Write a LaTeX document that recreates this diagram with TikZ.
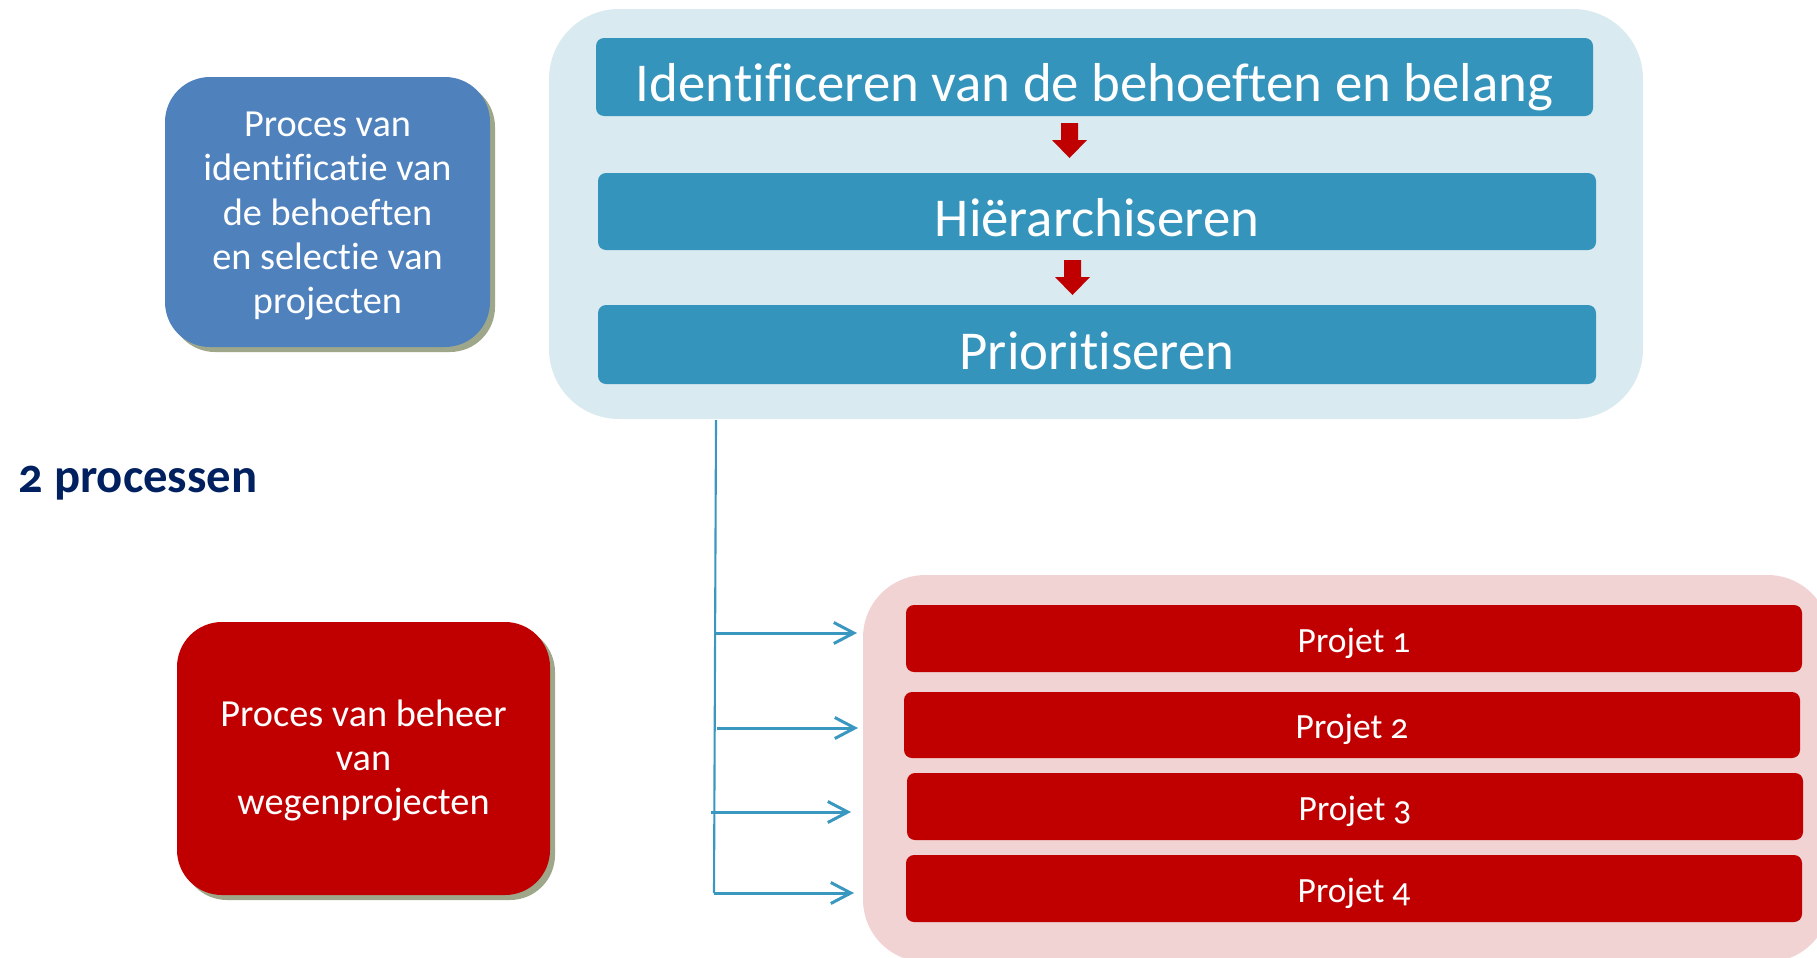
\documentclass[tikz,border=0pt]{standalone}
\usepackage{fontspec}
\setmainfont{Carlito}[Numbers=OldStyle,Ligatures=NoCommon]
\usetikzlibrary{arrows.meta,shadows}
\definecolor{lightblue}{HTML}{DAEAF1}
\definecolor{barblue}{HTML}{3594BC}
\definecolor{boxblue}{HTML}{4F81BD}
\definecolor{darkred}{HTML}{C00000}
\definecolor{pinkbg}{HTML}{F2D3D3}
\definecolor{navy}{HTML}{002060}
\definecolor{conn}{HTML}{3A97C0}
\definecolor{shadowc}{HTML}{9EA78A}
\tikzset{
  container/.style={rectangle, draw=none, inner sep=0pt},
  bar/.style={rectangle, fill=barblue, rounded corners=0.16cm, inner sep=0pt, text=white,
    text height=28.4pt, text depth=0pt,
    font=\fontsize{31.2pt}{37pt}\selectfont},
  projbar/.style={rectangle, fill=darkred, rounded corners=0.16cm, inner sep=0pt, text=white,
    text height=15.8pt, text depth=0pt,
    font=\fontsize{20.2pt}{24pt}\selectfont},
  procbox/.style={rectangle, rounded corners=0.9cm, inner sep=0pt,
    copy shadow={shadow xshift=0.1cm, shadow yshift=-0.1cm, fill=shadowc, draw=none}},
  proctext/.style={inner sep=0pt, text=white, align=center,
    font=\fontsize{21.8pt}{25.3pt}\selectfont},
  blockarrow/.style={fill=darkred, draw=none},
  connline/.style={draw=conn, line width=1.2pt},
  connarrow/.style={draw=conn, line width=1.7pt, -{Straight Barb[length=0.4cm, width=0.42cm, line width=1.7pt]}},
}
\begin{document}
\begin{tikzpicture}[x=0.02cm,y=-0.02cm]
\useasboundingbox (0,0) rectangle (1817,957);
\clip (0,0) rectangle (1817,957);
% containers
\node[container, fill=lightblue, rounded corners=1.4cm, minimum width=1094*0.02cm, minimum height=410*0.02cm] (top) at (1096,214) {};
\node[container, fill=pinkbg, rounded corners=1.25cm, minimum width=967*0.02cm, minimum height=387*0.02cm] (bottom) at (1346.5,768.5) {};
% top bars
\node[bar, minimum width=997*0.02cm, minimum height=78*0.02cm] (b1) at (1094.5,77) {Identificeren van de behoeften en belang};
\node[bar, minimum width=998*0.02cm, minimum height=77*0.02cm] (b2) at (1097,211.5) {Hiërarchiseren};
\node[bar, minimum width=998*0.02cm, minimum height=79*0.02cm] (b3) at (1097,344.5) {Prioritiseren};
% red block arrows
\fill[blockarrow] (1061,123) -- (1078,123) -- (1078,140) -- (1087,140) -- (1069.5,158) -- (1052,140) -- (1061,140) -- cycle;
\fill[blockarrow] (1064,260) -- (1081,260) -- (1081,277) -- (1090,277) -- (1072.5,295) -- (1055,277) -- (1064,277) -- cycle;
% process boxes
\node[procbox, fill=boxblue, minimum width=325*0.02cm, minimum height=270*0.02cm] (p1) at (327.5,212) {};
\node[proctext] (p1text) at ([yshift=-0.08cm]p1.center)
  {Proces van\\identificatie van\\de behoeften\\en selectie van\\projecten};
\node[procbox, fill=darkred, minimum width=373*0.02cm, minimum height=273*0.02cm] (p2) at (363.5,758.5) {};
\node[proctext] (p2text) at ([yshift=-0.04cm]p2.center)
  {Proces van beheer\\van\\wegenprojecten};
% title
\node[anchor=base west, inner sep=0pt, text=navy, font=\bfseries\fontsize{27.7pt}{33pt}\selectfont] (title) at (18,492) {2 processen};
% project bars
\node[projbar, minimum width=896*0.02cm, minimum height=67*0.02cm] (j1) at (1354,638.5) {Projet 1};
\node[projbar, minimum width=896*0.02cm, minimum height=66*0.02cm] (j2) at (1352,725) {Projet 2};
\node[projbar, minimum width=896*0.02cm, minimum height=67*0.02cm] (j3) at (1355,806.5) {Projet 3};
\node[projbar, minimum width=896*0.02cm, minimum height=67*0.02cm] (j4) at (1354,888.5) {Projet 4};
% connectors
\coordinate (vtop) at (716,420);
\coordinate (vbot) at (714,893);
\coordinate (s1) at (716,633);
\coordinate (s2) at (717,728);
\coordinate (s3) at (711,812);
\coordinate (s4) at (714,893);
\coordinate (e1) at (857,633);
\coordinate (e2) at (858,728);
\coordinate (e3) at (851,812);
\coordinate (e4) at (854,893);
\draw[connline] (vtop) -- (vbot);
\draw[connarrow] (s1) -- (e1);
\draw[connarrow] (s2) -- (e2);
\draw[connarrow] (s3) -- (e3);
\draw[connarrow] (s4) -- (e4);
\end{tikzpicture}
\end{document}
